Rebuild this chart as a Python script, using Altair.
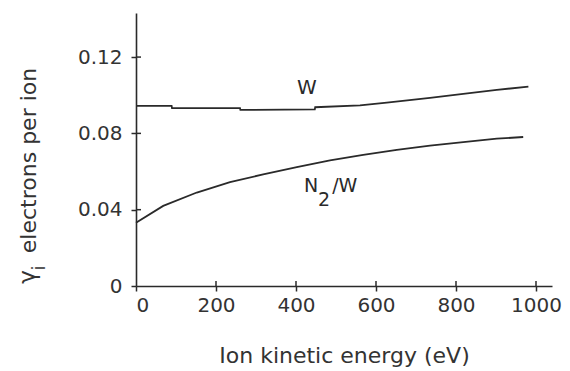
import altair as alt
import pandas as pd

# Ion kinetic energy (eV) and yield (electrons per ion)
energy_w = [0, 89, 90, 260, 261, 447, 448, 560, 627, 735, 818, 902, 981]
gamma_w = [0.0944, 0.0944, 0.0932, 0.0932, 0.0923, 0.0926, 0.0937, 0.0947, 0.0961, 0.0986, 0.1007, 0.1028, 0.1045]

energy_n2w = [0, 68, 152, 235, 318, 402, 485, 568, 652, 735, 818, 902, 968]
gamma_n2w = [0.0332, 0.0420, 0.0490, 0.0545, 0.0585, 0.0623, 0.0658, 0.0687, 0.0714, 0.0736, 0.0754, 0.0772, 0.0781]

x_ticks = [0, 200, 400, 600, 800, 1000]
y_ticks = [0, 0.04, 0.08, 0.12]

# curve labels: text, energy, gamma
label_text = ["W", "N", "2", "/W"]
label_x = [427, 438, 470, 522]
label_y = [0.1038, 0.0522, 0.0453, 0.0522]
label_size = [20, 19, 19, 19]

# y-axis symbol (gamma with subscript i), drawn as rotated text
sym_text = ["γ", "i"]
sym_px = [-108, -96]
sym_py = [264, 255]
sym_size = [23, 17]

X_DOMAIN = [0, 1040]
Y_DOMAIN = [0, 0.1431]
INK = "#2a2a2a"

df = pd.concat([
    pd.DataFrame({"energy": energy_w, "gamma": gamma_w, "series": "W"}),
    pd.DataFrame({"energy": energy_n2w, "gamma": gamma_n2w, "series": "N2/W"}),
])
labels = pd.DataFrame({"t": label_text, "x": label_x, "y": label_y, "s": label_size})
syms = pd.DataFrame({"t": sym_text, "px": sym_px, "py": sym_py, "s": sym_size})
xt = pd.DataFrame({"v": x_ticks[1:]})
yt = pd.DataFrame({"v": y_ticks[1:]})

xs = alt.Scale(domain=X_DOMAIN, nice=False, zero=False)
ys = alt.Scale(domain=Y_DOMAIN, nice=False, zero=False)

lines = alt.Chart(df).mark_line(color=INK, strokeWidth=1.8).encode(
    x=alt.X("energy:Q", scale=xs,
            axis=alt.Axis(values=x_ticks, format="d", title="Ion kinetic energy (eV)",
                          titleY=59, labelPadding=4)),
    y=alt.Y("gamma:Q", scale=ys,
            axis=alt.Axis(values=y_ticks, title="electrons per ion",
                          labelExpr="datum.value == 0 ? '0' : format(datum.value, '.2f')",
                          labelPadding=9, titleX=-96, titleY=147)),
    detail="series:N",
)

texts = alt.Chart(labels).mark_text(color=INK, font="DejaVu Sans", baseline="middle", align="center").encode(
    x=alt.X("x:Q", scale=xs),
    y=alt.Y("y:Q", scale=ys),
    text="t:N",
    size=alt.Size("s:Q", scale=None, legend=None),
)

symbols = alt.Chart(syms).mark_text(color="#333", font="DejaVu Sans", baseline="middle",
                                   align="center", angle=270).encode(
    x=alt.X("px:Q", scale=None),
    y=alt.Y("py:Q", scale=None),
    text="t:N",
    size=alt.Size("s:Q", scale=None, legend=None),
)

inner_x = alt.Chart(xt).mark_rule(color=INK, strokeWidth=1.5).encode(
    x=alt.X("v:Q", scale=xs), y=alt.value(273), y2=alt.value(268)
)
inner_y = alt.Chart(yt).mark_rule(color=INK, strokeWidth=1.5).encode(
    y=alt.Y("v:Q", scale=ys), x=alt.value(0), x2=alt.value(5)
)

chart = alt.layer(lines, texts, inner_x, inner_y, symbols).properties(
    width=416, height=273,
    padding={"left": 128, "top": 5, "right": 10, "bottom": 85},
    autosize="none",
    background="white",
).configure_view(stroke=None).configure_axis(
    grid=False,
    domainColor=INK, domainWidth=1.6,
    tickColor=INK, tickWidth=1.5, tickSize=5,
    labelFont="DejaVu Sans", labelFontSize=20, labelColor="#333",
    titleFont="DejaVu Sans", titleFontSize=22, titleFontWeight="normal", titleColor="#333",
)

chart.save("out.html", embed_options={"renderer": "svg", "actions": False})
